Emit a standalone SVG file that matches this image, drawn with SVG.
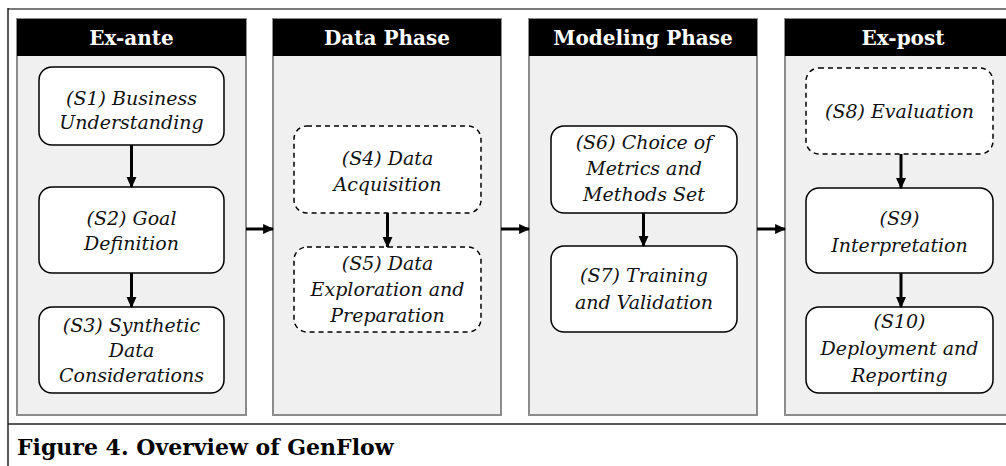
<svg xmlns="http://www.w3.org/2000/svg" width="1006" height="466" viewBox="0 0 1006 466">
  <style>
    .panel { fill: #f0f0f0; stroke: #8c8c8c; stroke-width: 2; }
    .head { fill: #000; }
    .htxt { font-family: "DejaVu Serif", "Liberation Serif", serif; font-weight: bold; font-size: 20px; fill: #fff; text-anchor: middle; }
    .node { fill: #fff; stroke: #000; stroke-width: 1.5; }
    .dash { stroke-dasharray: 5 4; }
    .ntxt { font-family: "DejaVu Serif", "Liberation Serif", serif; font-style: italic; font-size: 19px; fill: #111; text-anchor: middle; }
    .edge { stroke: #000; stroke-width: 3; fill: none; }
    .cap { font-family: "DejaVu Serif", "Liberation Serif", serif; font-weight: bold; font-size: 22px; fill: #000; }
  </style>
  <defs>
    <marker id="arrow" viewBox="0 0 10 10" refX="9" refY="5" markerWidth="11" markerHeight="11" markerUnits="userSpaceOnUse" orient="auto">
      <path d="M0,0.5 L10,5 L0,9.5 Z" fill="#000"/>
    </marker>
  </defs>

  <rect x="0" y="0" width="1006" height="466" fill="#fff"/>

  <!-- outer frame -->
  <g id="frame">
    <line x1="8" y1="9" x2="1006" y2="9" stroke="#7a7a7a" stroke-width="2"/>
    <line x1="8" y1="8" x2="8" y2="466" stroke="#222" stroke-width="1.5"/>
    <line x1="8" y1="424" x2="1006" y2="424" stroke="#222" stroke-width="1.5"/>
  </g>

  <!-- phase panels -->
  <g id="panel-exante">
    <rect class="panel" x="17" y="19" width="229" height="396"/>
    <rect class="head" x="17" y="19" width="229" height="37"/>
    <text class="htxt" x="131.5" y="45">Ex-ante</text>
  </g>
  <g id="panel-data">
    <rect class="panel" x="273" y="19" width="228" height="396"/>
    <rect class="head" x="273" y="19" width="228" height="37"/>
    <text class="htxt" x="387" y="45">Data Phase</text>
  </g>
  <g id="panel-modeling">
    <rect class="panel" x="529" y="19" width="228" height="396"/>
    <rect class="head" x="529" y="19" width="228" height="37"/>
    <text class="htxt" x="643" y="45">Modeling Phase</text>
  </g>
  <g id="panel-expost">
    <rect class="panel" x="785" y="19" width="230" height="396"/>
    <rect class="head" x="785" y="19" width="230" height="37"/>
    <text class="htxt" x="903" y="45">Ex-post</text>
  </g>

  <!-- steps -->
  <g id="s1">
    <rect class="node" x="39" y="67" width="185" height="78" rx="13"/>
    <text class="ntxt" x="131.5" y="105">(S1) Business</text>
    <text class="ntxt" x="131.5" y="129">Understanding</text>
  </g>
  <g id="s2">
    <rect class="node" x="39" y="187" width="185" height="86" rx="13"/>
    <text class="ntxt" x="131.5" y="225">(S2) Goal</text>
    <text class="ntxt" x="131.5" y="250">Definition</text>
  </g>
  <g id="s3">
    <rect class="node" x="39" y="307" width="185" height="86" rx="13"/>
    <text class="ntxt" x="131.5" y="332">(S3) Synthetic</text>
    <text class="ntxt" x="131.5" y="357">Data</text>
    <text class="ntxt" x="131.5" y="382">Considerations</text>
  </g>
  <g id="s4">
    <rect class="node dash" x="294" y="126" width="187" height="87" rx="13"/>
    <text class="ntxt" x="387.5" y="165">(S4) Data</text>
    <text class="ntxt" x="387.5" y="191">Acquisition</text>
  </g>
  <g id="s5">
    <rect class="node dash" x="294" y="247" width="187" height="85" rx="13"/>
    <text class="ntxt" x="387.5" y="270">(S5) Data</text>
    <text class="ntxt" x="387.5" y="296">Exploration and</text>
    <text class="ntxt" x="387.5" y="322">Preparation</text>
  </g>
  <g id="s6">
    <rect class="node" x="551" y="126" width="186" height="87" rx="13"/>
    <text class="ntxt" x="644" y="149">(S6) Choice of</text>
    <text class="ntxt" x="644" y="175">Metrics and</text>
    <text class="ntxt" x="644" y="201">Methods Set</text>
  </g>
  <g id="s7">
    <rect class="node" x="551" y="246" width="186" height="86" rx="13"/>
    <text class="ntxt" x="644" y="282">(S7) Training</text>
    <text class="ntxt" x="644" y="309">and Validation</text>
  </g>
  <g id="s8">
    <rect class="node dash" x="806" y="68" width="187" height="86" rx="13"/>
    <text class="ntxt" x="899.5" y="118">(S8) Evaluation</text>
  </g>
  <g id="s9">
    <rect class="node" x="806" y="188" width="187" height="85" rx="13"/>
    <text class="ntxt" x="899.5" y="225">(S9)</text>
    <text class="ntxt" x="899.5" y="252">Interpretation</text>
  </g>
  <g id="s10">
    <rect class="node" x="806" y="307" width="187" height="86" rx="13"/>
    <text class="ntxt" x="899.5" y="328">(S10)</text>
    <text class="ntxt" x="899.5" y="355">Deployment and</text>
    <text class="ntxt" x="899.5" y="382">Reporting</text>
  </g>

  <!-- connectors -->
  <g id="connectors">
    <line class="edge" x1="131.5" y1="145" x2="131.5" y2="187" marker-end="url(#arrow)"/>
    <line class="edge" x1="131.5" y1="273" x2="131.5" y2="307" marker-end="url(#arrow)"/>
    <line class="edge" x1="387.5" y1="213" x2="387.5" y2="247" marker-end="url(#arrow)"/>
    <line class="edge" x1="643.5" y1="213" x2="643.5" y2="246" marker-end="url(#arrow)"/>
    <line class="edge" x1="901" y1="154" x2="901" y2="188" marker-end="url(#arrow)"/>
    <line class="edge" x1="901" y1="273" x2="901" y2="307" marker-end="url(#arrow)"/>
    <line class="edge" x1="246" y1="229" x2="273" y2="229" marker-end="url(#arrow)"/>
    <line class="edge" x1="501" y1="229" x2="529" y2="229" marker-end="url(#arrow)"/>
    <line class="edge" x1="757" y1="229" x2="785" y2="229" marker-end="url(#arrow)"/>
  </g>

  <!-- caption -->
  <text class="cap" x="17" y="455">Figure 4. Overview of GenFlow</text>
</svg>
